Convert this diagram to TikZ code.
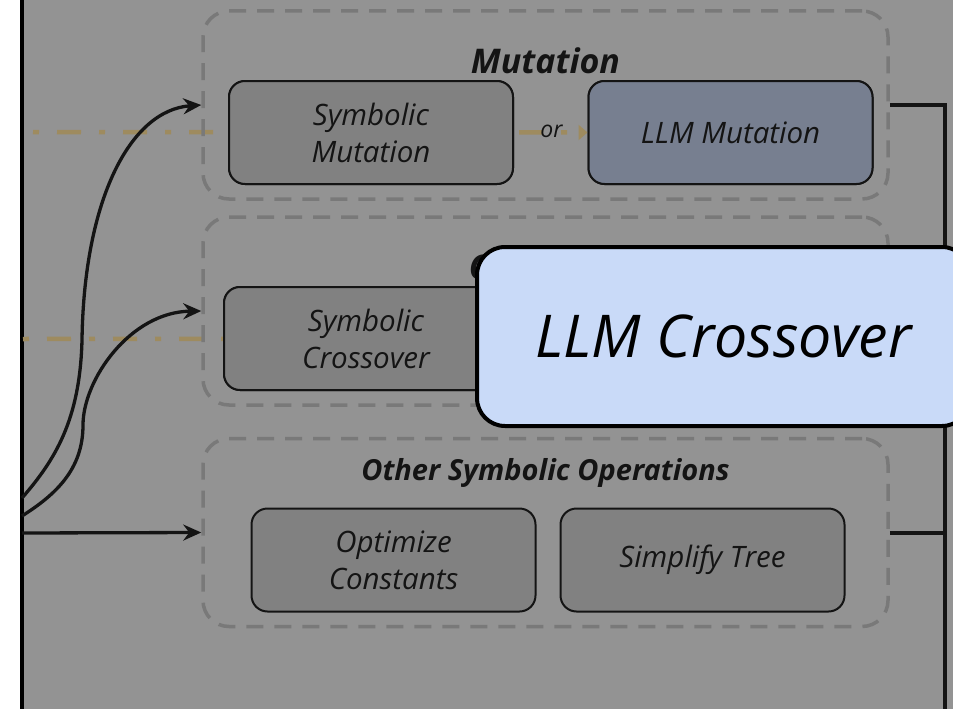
\documentclass[tikz,border=0pt]{standalone}
\usepackage{fontspec}
\setmainfont{Open Sans}
\usetikzlibrary{arrows.meta}

\definecolor{panel}{HTML}{939393}
\definecolor{grpline}{HTML}{797979}
\definecolor{opfill}{HTML}{818181}
\definecolor{llmfill}{HTML}{777F90}
\definecolor{orcol}{HTML}{9E8B5F}
\definecolor{ink}{HTML}{141414}
\definecolor{hilite}{HTML}{C9DAF8}

\tikzset{
  grp/.style={draw=grpline, line width=3.5pt, dash pattern=on 17pt off 11pt,
    rounded corners=26pt, minimum width=685pt, minimum height=188pt, inner sep=0pt},
  grptitle/.style={text=ink, font=\bfseries\itshape\fontsize{29}{34}\selectfont, inner sep=0pt},
  bigtitle/.style={grptitle, font=\bfseries\itshape\fontsize{34}{40}\selectfont},
  opbox/.style={draw=ink, line width=2pt, fill=opfill, rounded corners=16pt,
    minimum width=284pt, minimum height=103pt, inner sep=0pt, align=center,
    text=ink, font=\itshape\fontsize{29.5}{37}\selectfont},
  llmbox/.style={opbox, fill=llmfill},
  orline/.style={draw=orcol, line width=4.5pt, dash pattern=on 6pt off 18pt on 24pt off 18pt},
  orlabel/.style={text=ink, font=\itshape\fontsize{23}{26}\selectfont, inner sep=0pt},
  flow/.style={draw=ink, line width=3.3pt, -{Stealth[length=18pt,width=16pt,inset=6pt]}},
  bus/.style={draw=ink, line width=4pt},
  focus/.style={draw=black, line width=4pt, fill=hilite, rounded corners=28pt,
    minimum width=493pt, minimum height=179pt, inner sep=0pt,
    text=black, font=\itshape\fontsize{59}{66}\selectfont}
}

\begin{document}
\begin{tikzpicture}[x=1pt, y=-1pt]
  \useasboundingbox (0,0) rectangle (953,709);
  \clip (0,0) rectangle (953,709);

  % backdrop and left rail
  \fill[panel] (20,-5) rectangle (958,714);
  \coordinate (railTop) at (22,-5);
  \coordinate (railBot) at (22,714);
  \draw[draw=black, line width=4pt] (railTop) -- (railBot);

  % inner operation boxes placed first so the dash-dot guides can reach them
  \node[opbox] (symmut) at (371,132.5) {Symbolic\\Mutation};
  \node[llmbox] (llmmut) at (730.5,132.5) {LLM Mutation};
  \node[opbox] (symcross) at (366,338.5) {Symbolic\\Crossover};

  % dash-dot "or" guides
  \coordinate (g1) at (33,132);
  \coordinate (g2) at (23,339);
  \draw[orline, -{Triangle[length=9pt,width=15pt]}] (g1) -- (llmmut.west);
  \draw[orline] (g2) -- (symcross.east);
  \node[orlabel] (orlab) at (551.5,131) {or};

  % boxes again, on top of the guides
  \node[opbox] at (symmut) {Symbolic\\Mutation};
  \node[llmbox] at (llmmut) {LLM Mutation};
  \node[opbox] at (symcross) {Symbolic\\Crossover};

  % dashed groups
  \node[grp] (mutgrp) at (545.5,105) {};
  \node[grp] (crossgrp) at (545.5,311) {};
  \node[grp] (othergrp) at (545.5,532.5) {};

  \node[bigtitle] (muttitle) at (545.5,61) {Mutation};
  \node[bigtitle] (crosstitle) at (547,267) {Crossover};
  \node[grptitle] (othertitle) at (545.5,473) {Other Symbolic Operations};

  \node[opbox] (optconst) at (393.5,560) {Optimize\\Constants};
  \node[opbox] (simptree) at (702.5,560) {Simplify Tree};

  % incoming connectors from the left rail
  \coordinate (s1) at (22,498);
  \coordinate (s2) at (22,516);
  \coordinate (s3) at (22,533);
  \draw[flow] (s1) .. controls (55,460) and (80,420) .. (82,340)
                   .. controls (84,200) and (130,110) .. (mutgrp.west);
  \draw[flow] (s2) .. controls (55,495) and (83,470) .. (83,425)
                   .. controls (83,380) and (130,312) .. (crossgrp.west);
  \draw[flow] (s3) -- (othergrp.west);

  % outgoing bus on the right
  \coordinate (busBot) at (945,714);
  \draw[bus] (mutgrp.east) -| (busBot);
  \draw[bus] (crossgrp.east) -- (crossgrp.east -| busBot);
  \draw[bus] (othergrp.east) -- (othergrp.east -| busBot);

  % highlighted operation
  \node[focus] (llmcross) at (723.5,336.5) {LLM Crossover};
\end{tikzpicture}
\end{document}
